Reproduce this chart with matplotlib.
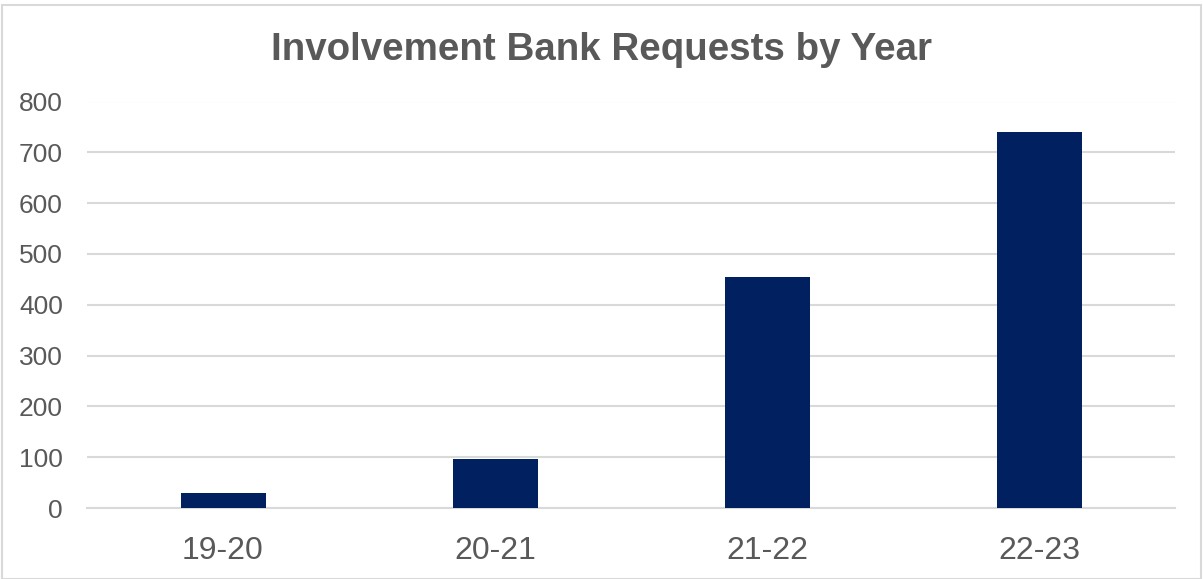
import matplotlib
matplotlib.use("Agg")
import matplotlib.pyplot as plt
from matplotlib.patches import Rectangle

categories = ["19-20", "20-21", "21-22", "22-23"]
requests = [29, 97, 454, 740]
yticks = [0, 100, 200, 300, 400, 500, 600, 700, 800]

plt.rcParams['font.family'] = ['Liberation Sans', 'DejaVu Sans']

W, H = 1203, 579
fig = plt.figure(figsize=(W / 100, H / 100), dpi=100)
fig.patches.append(Rectangle((2 / W, 0), 1 - 4 / W, 1 - 5 / H, transform=fig.transFigure,
                             fill=False, edgecolor="#d9d9d9", linewidth=1.5))

left, right = 87 / W, 1175 / W
bottom, top = 1 - 508 / H, 1 - 101.5 / H
ax = fig.add_axes([left, bottom, right - left, top - bottom])

x = range(len(categories))
ax.bar(x, requests, width=0.3125, color="#002060", zorder=3)
ax.set_xlim(-0.5, len(categories) - 0.5)
ax.set_ylim(0, 800)
ax.set_yticks(yticks)
ax.set_xticks(list(x))
ax.set_xticklabels(categories)
ax.grid(axis="y", color="#d9d9d9", linewidth=1.5, zorder=0)
ax.set_axisbelow(True)
for s in ["top", "right", "left"]:
    ax.spines[s].set_visible(False)
ax.spines["bottom"].set_color("#d9d9d9")
ax.spines["bottom"].set_linewidth(1.5)
ax.tick_params(axis="both", length=0, labelcolor="#595959")
ax.tick_params(axis="y", pad=17.3, labelsize=19)
ax.tick_params(axis="x", pad=20, labelsize=23)

fig.text(0.5, 1 - 50 / H, "Involvement Bank Requests by Year", ha="center", va="center",
         fontsize=27.7, fontweight="bold", color="#595959")

fig.savefig("out.png", dpi=100)
